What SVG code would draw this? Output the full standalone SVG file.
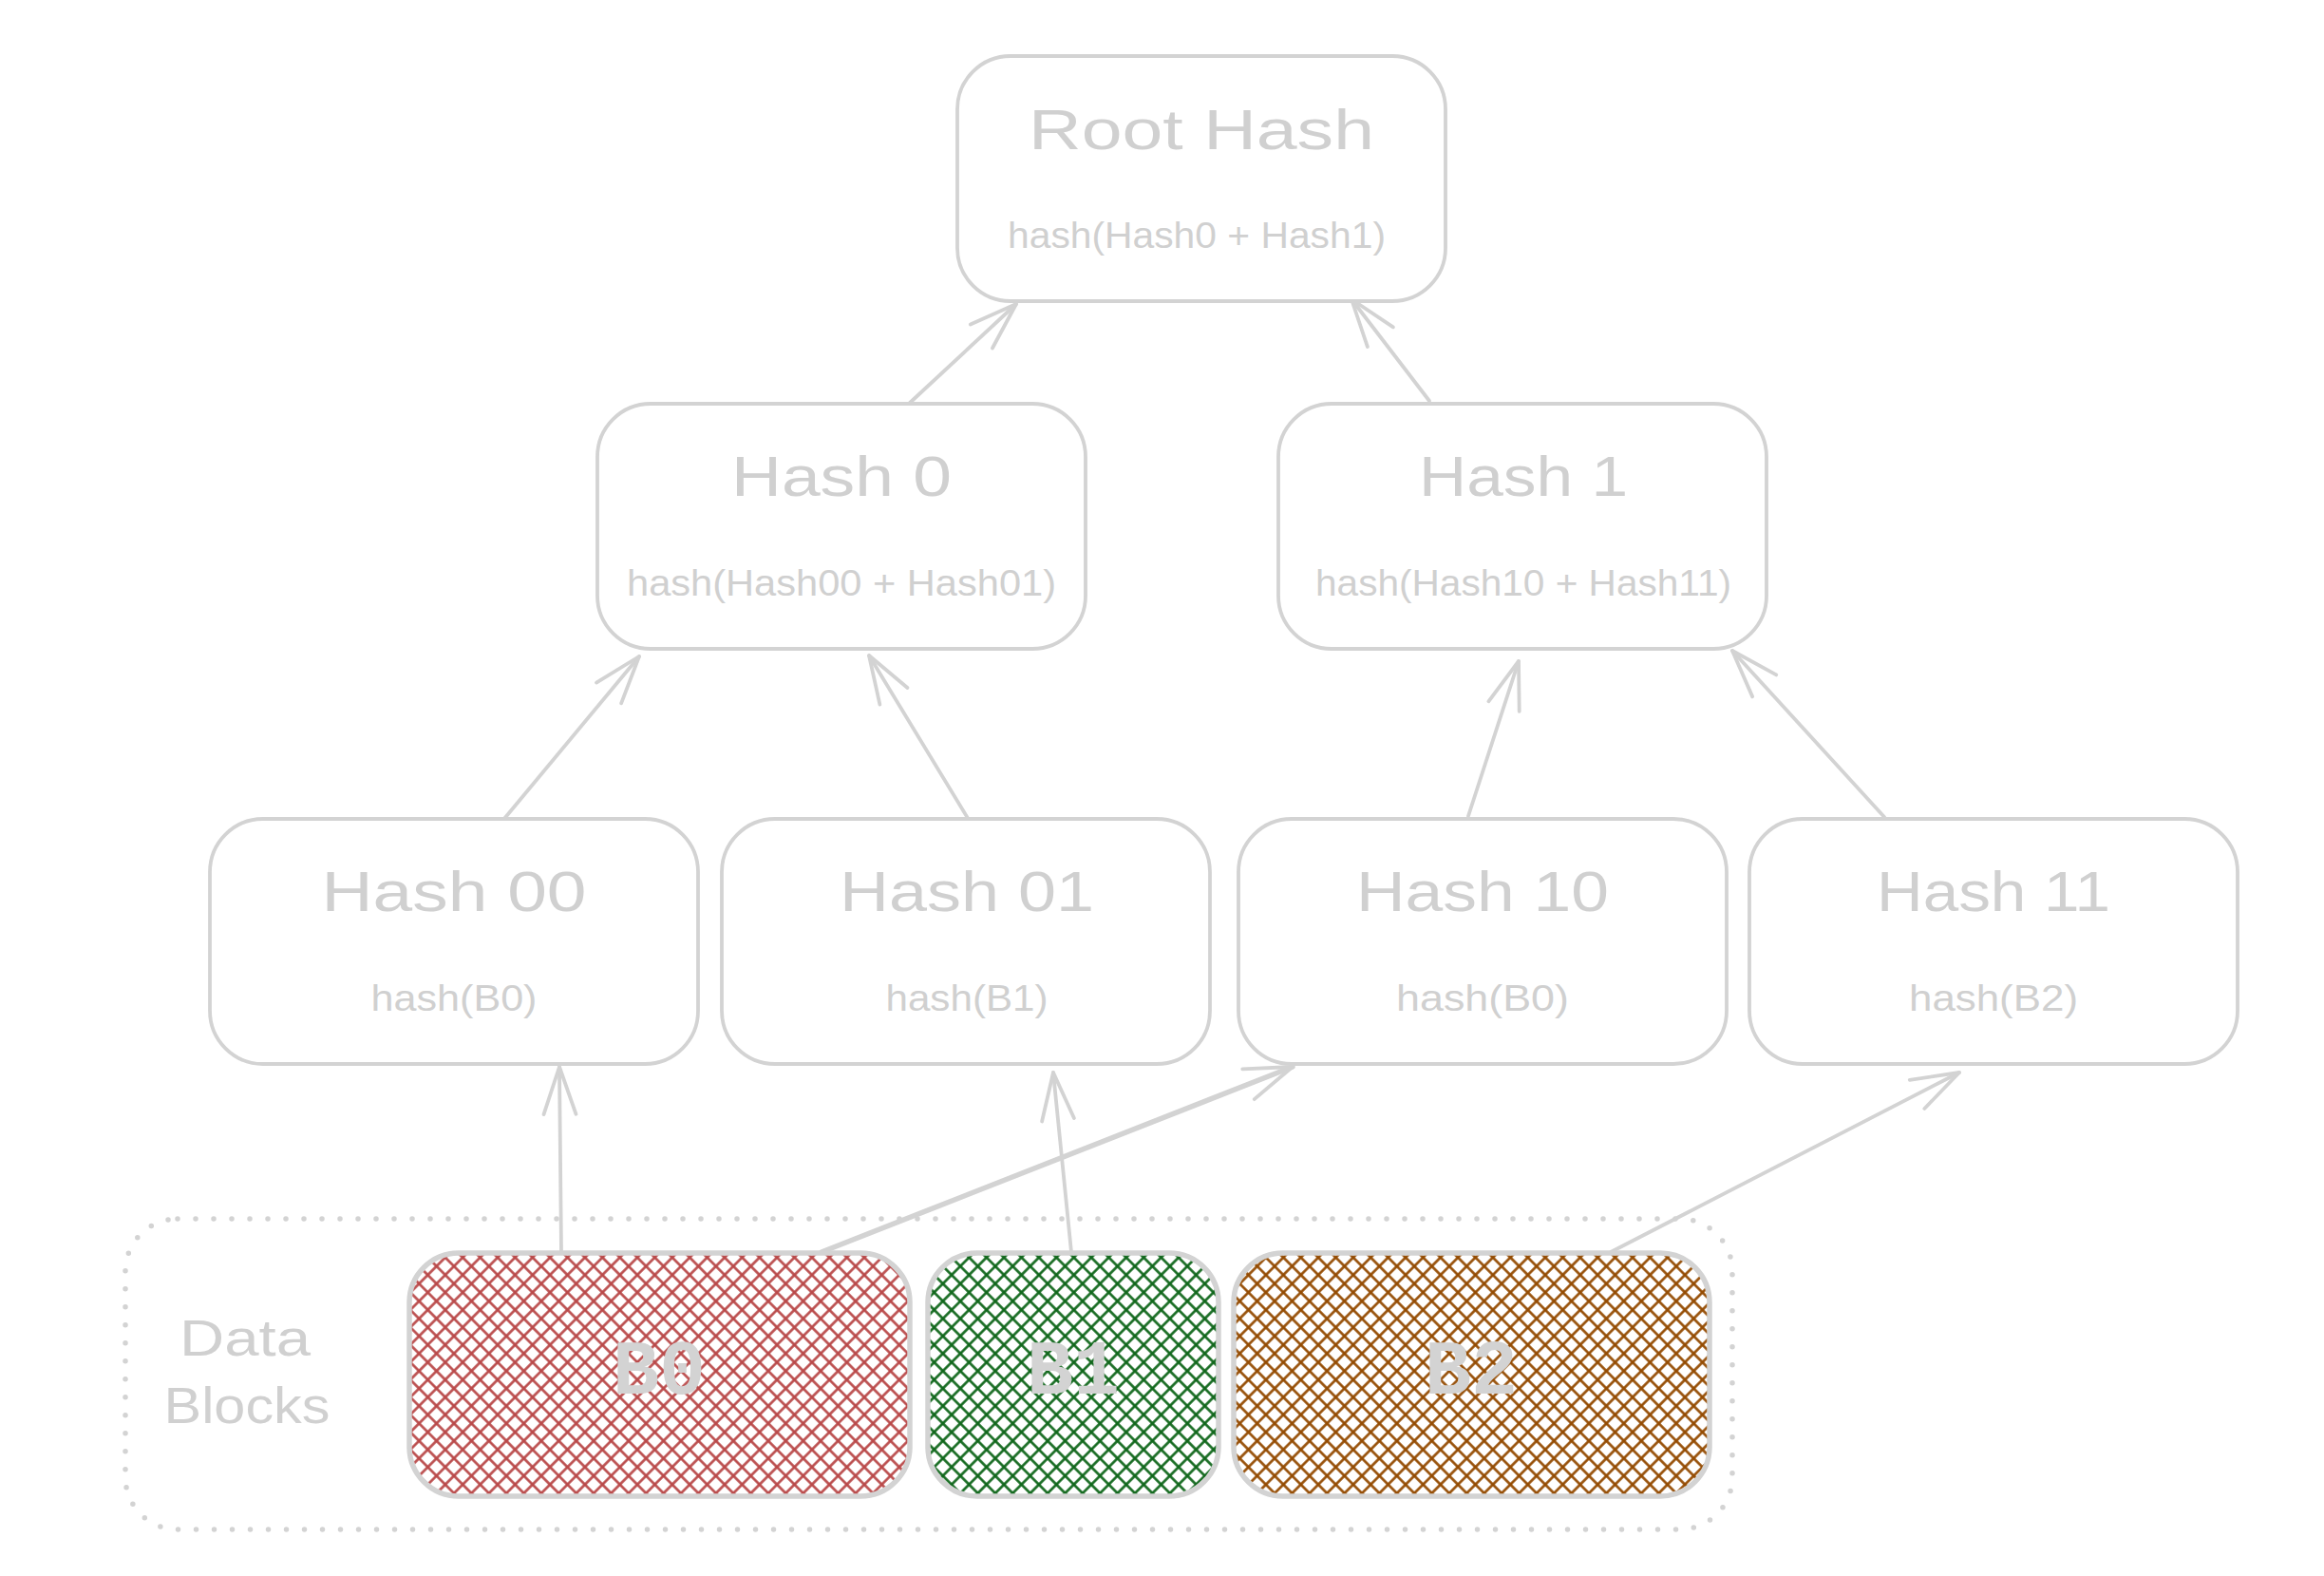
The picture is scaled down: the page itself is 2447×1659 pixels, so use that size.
<svg xmlns="http://www.w3.org/2000/svg" width="2447" height="1659" viewBox="0 0 2447 1659">
  <style>
    .box { fill: #ffffff; stroke: #d3d3d3; stroke-width: 3.8; }
    .blk { stroke: #d3d3d3; stroke-width: 5.5; }
    .title { font-family: "Liberation Sans", Arial, sans-serif; font-size: 60px; fill: #d0d0d0; text-anchor: middle; }
    .sub { font-family: "Liberation Sans", Arial, sans-serif; font-size: 38px; fill: #d0d0d0; text-anchor: middle; }
    .lbl { font-family: "Liberation Mono", "Courier New", monospace; font-size: 82px; font-weight: bold; fill: #d3d3d3; text-anchor: middle; }
    .grp { font-family: "Liberation Sans", Arial, sans-serif; font-size: 54px; fill: #d0d0d0; text-anchor: middle; }
    .edge { fill: none; stroke: #d3d3d3; stroke-width: 3.8; stroke-linecap: round; marker-end: url(#arr); }
    .frame { fill: none; stroke: #d3d3d3; stroke-width: 5.5; stroke-linecap: round; stroke-dasharray: 0 19; }
  </style>
  <defs>
    <marker id="arr" markerUnits="userSpaceOnUse" viewBox="-60 -25 66 50" refX="0" refY="0" markerWidth="66" markerHeight="50" orient="auto" overflow="visible">
      <path d="M-50,-17 L0,0 L-50,17" fill="none" stroke="#d3d3d3" stroke-width="3.8" stroke-linecap="round" stroke-linejoin="round"/>
    </marker>
    <pattern id="hRed" patternUnits="userSpaceOnUse" width="13" height="13" patternTransform="rotate(45)">
      <line x1="0" y1="6.5" x2="13" y2="6.5" stroke="#b94848" stroke-width="2.6"/>
      <line x1="6.5" y1="0" x2="6.5" y2="13" stroke="#b94848" stroke-width="2.6"/>
    </pattern>
    <pattern id="hGreen" patternUnits="userSpaceOnUse" width="13" height="13" patternTransform="rotate(45)">
      <line x1="0" y1="6.5" x2="13" y2="6.5" stroke="#0f661a" stroke-width="2.6"/>
      <line x1="6.5" y1="0" x2="6.5" y2="13" stroke="#0f661a" stroke-width="2.6"/>
    </pattern>
    <pattern id="hBrown" patternUnits="userSpaceOnUse" width="13" height="13" patternTransform="rotate(45)">
      <line x1="0" y1="6.5" x2="13" y2="6.5" stroke="#934a00" stroke-width="2.6"/>
      <line x1="6.5" y1="0" x2="6.5" y2="13" stroke="#934a00" stroke-width="2.6"/>
    </pattern>
  </defs>
  <rect width="2447" height="1659" fill="#ffffff"/>

  <g id="data-blocks">
    <rect class="frame" x="132" y="1283" width="1692" height="327" rx="55"/>
    <text class="grp" x="258" y="1427" textLength="138" lengthAdjust="spacingAndGlyphs">Data</text>
    <text class="grp" x="260" y="1498" textLength="175" lengthAdjust="spacingAndGlyphs">Blocks</text>
  </g>

  <g id="connectors">
    <line class="edge" x1="958" y1="424" x2="1070" y2="320"/>
    <line class="edge" x1="1505" y1="422" x2="1423" y2="315"/>
    <line class="edge" x1="530" y1="863" x2="673" y2="691"/>
    <line class="edge" x1="1020" y1="863" x2="915" y2="690"/>
    <line class="edge" x1="1546" y1="859" x2="1599" y2="696"/>
    <line class="edge" x1="1984" y1="860" x2="1824" y2="685"/>
    <line class="edge" x1="591" y1="1318" x2="589" y2="1123"/>
    <line class="edge" x1="1128" y1="1318" x2="1109" y2="1129"/>
    <line class="edge" x1="865" y1="1318" x2="1361" y2="1123" style="stroke-width:5.5"/>
    <line class="edge" x1="1696" y1="1318" x2="2063" y2="1129"/>
  </g>

  <g id="root-hash">
    <rect class="box" x="1008" y="59" width="514" height="258" rx="56"/>
    <text class="title" x="1265" y="157" textLength="364" lengthAdjust="spacingAndGlyphs">Root Hash</text>
    <text class="sub" x="1260" y="261" textLength="398" lengthAdjust="spacingAndGlyphs">hash(Hash0 + Hash1)</text>
  </g>

  <g id="hash-0">
    <rect class="box" x="629" y="425" width="514" height="258" rx="56"/>
    <text class="title" x="886" y="522" textLength="232" lengthAdjust="spacingAndGlyphs">Hash 0</text>
    <text class="sub" x="886" y="627" textLength="452" lengthAdjust="spacingAndGlyphs">hash(Hash00 + Hash01)</text>
  </g>

  <g id="hash-1">
    <rect class="box" x="1346" y="425" width="514" height="258" rx="56"/>
    <text class="title" x="1604" y="522" textLength="220" lengthAdjust="spacingAndGlyphs">Hash 1</text>
    <text class="sub" x="1604" y="627" textLength="438" lengthAdjust="spacingAndGlyphs">hash(Hash10 + Hash11)</text>
  </g>

  <g id="hash-00">
    <rect class="box" x="221" y="862" width="514" height="258" rx="56"/>
    <text class="title" x="478" y="959" textLength="279" lengthAdjust="spacingAndGlyphs">Hash 00</text>
    <text class="sub" x="478" y="1064" textLength="175" lengthAdjust="spacingAndGlyphs">hash(B0)</text>
  </g>

  <g id="hash-01">
    <rect class="box" x="760" y="862" width="514" height="258" rx="56"/>
    <text class="title" x="1018" y="959" textLength="268" lengthAdjust="spacingAndGlyphs">Hash 01</text>
    <text class="sub" x="1018" y="1064" textLength="171" lengthAdjust="spacingAndGlyphs">hash(B1)</text>
  </g>

  <g id="hash-10">
    <rect class="box" x="1304" y="862" width="514" height="258" rx="56"/>
    <text class="title" x="1561" y="959" textLength="266" lengthAdjust="spacingAndGlyphs">Hash 10</text>
    <text class="sub" x="1561" y="1064" textLength="182" lengthAdjust="spacingAndGlyphs">hash(B0)</text>
  </g>

  <g id="hash-11">
    <rect class="box" x="1842" y="862" width="514" height="258" rx="56"/>
    <text class="title" x="2099" y="959" textLength="246" lengthAdjust="spacingAndGlyphs">Hash 11</text>
    <text class="sub" x="2099" y="1064" textLength="178" lengthAdjust="spacingAndGlyphs">hash(B2)</text>
  </g>

  <g id="block-b0">
    <rect class="blk" x="431" y="1319" width="527" height="256" rx="52" fill="url(#hRed)"/>
    <text class="lbl" x="694" y="1467" textLength="98" lengthAdjust="spacingAndGlyphs">B0</text>
  </g>

  <g id="block-b1">
    <rect class="blk" x="977" y="1319" width="306" height="256" rx="52" fill="url(#hGreen)"/>
    <text class="lbl" x="1130" y="1467" textLength="98" lengthAdjust="spacingAndGlyphs">B1</text>
  </g>

  <g id="block-b2">
    <rect class="blk" x="1299" y="1319" width="501" height="256" rx="52" fill="url(#hBrown)"/>
    <text class="lbl" x="1549" y="1467" textLength="98" lengthAdjust="spacingAndGlyphs">B2</text>
  </g>
</svg>
